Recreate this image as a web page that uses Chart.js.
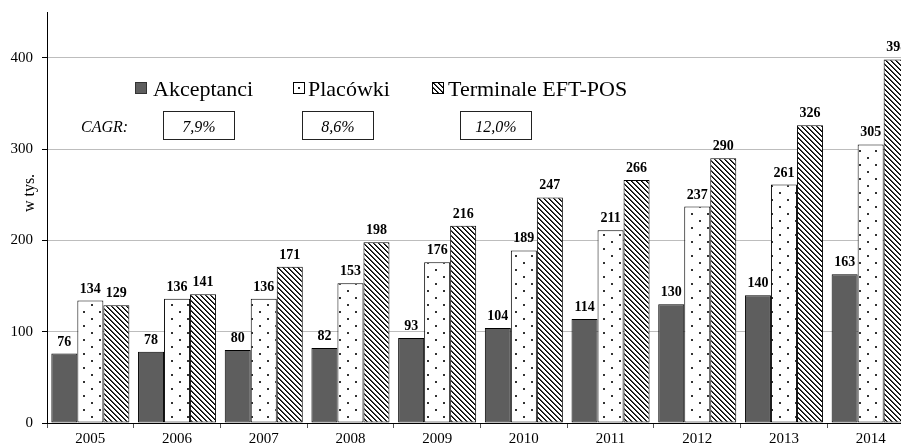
<!DOCTYPE html>
<html>
<head>
<meta charset="utf-8">
<script src="https://cdn.jsdelivr.net/npm/chart.js@4.4.0/dist/chart.umd.min.js"></script>
<style>
  html, body { margin: 0; padding: 0; background: #fff; overflow: hidden; }
  #wrap { width: 901px; height: 446px; overflow: hidden; position: relative; }
  canvas { display: block; }
</style>
</head>
<body>
<div id="wrap"><canvas id="c" width="914" height="446" style="width:914px;height:446px"></canvas></div>
<script>
const years = ['2005','2006','2007','2008','2009','2010','2011','2012','2013','2014'];
const akceptanci = [76, 78, 80, 82, 93, 104, 114, 130, 140, 163];
const placowki   = [134, 136, 136, 153, 176, 189, 211, 237, 261, 305];
const terminale  = [129, 141, 171, 198, 216, 247, 266, 290, 326, 398];
const seriesNames = ['Akceptanci', 'Placówki', 'Terminale EFT-POS'];
const cagrLabel = 'CAGR:';
const cagrValues = ['7,9%', '8,6%', '12,0%'];
const yTickValues = [0, 100, 200, 300, 400];
const yTitle = 'w tys.';

const SERIF = '"Liberation Serif", "Times New Roman", serif';

const canvas = document.getElementById('c');
const ctx = canvas.getContext('2d');

function makeDotPattern() {
  const c = document.createElement('canvas');
  c.width = 16; c.height = 14;
  const g = c.getContext('2d');
  g.fillStyle = '#fff'; g.fillRect(0, 0, 16, 14);
  g.fillStyle = '#333';
  g.fillRect(3, 3, 2, 2);
  g.fillRect(11, 10, 2, 2);
  return ctx.createPattern(c, 'repeat');
}
function makeHatchPattern() {
  const n = 5;
  const c = document.createElement('canvas');
  c.width = n; c.height = n;
  const g = c.getContext('2d');
  g.fillStyle = '#fff'; g.fillRect(0, 0, n, n);
  for (let y = 0; y < n; y++) {
    for (let x = 0; x < n; x++) {
      const d = ((x - y) % n + n) % n;
      if (d === 0) { g.fillStyle = '#000'; g.fillRect(x, y, 1, 1); }
      else if (d === 1) { g.fillStyle = '#444'; g.fillRect(x, y, 1, 1); }
    }
  }
  return ctx.createPattern(c, 'repeat');
}
const dotPat = makeDotPattern();
const hatchPat = makeHatchPattern();
const darkFill = '#5e5e5e';

const overlayPlugin = {
  id: 'overlay',
  afterDatasetsDraw(chart) {
    const c = chart.ctx;
    c.save();
    // data labels
    c.font = 'bold 14px ' + SERIF;
    c.fillStyle = '#000';
    c.textAlign = 'center';
    c.textBaseline = 'alphabetic';
    chart.data.datasets.forEach((ds, i) => {
      const meta = chart.getDatasetMeta(i);
      meta.data.forEach((bar, j) => {
        c.fillText(String(ds.data[j]), bar.x, bar.y - 8);
      });
    });
    // y title
    c.save();
    c.translate(30, 193);
    c.rotate(-Math.PI / 2);
    c.font = '16px ' + SERIF;
    c.textAlign = 'center';
    c.textBaseline = 'middle';
    c.fillText(yTitle, 0, 0);
    c.restore();

    // legend
    const boxes = [135, 293, 432];
    const textX = [153, 308, 448];
    const fills = [darkFill, '#fff', hatchPat];
    c.font = '22px ' + SERIF;
    c.textAlign = 'left';
    c.textBaseline = 'alphabetic';
    for (let i = 0; i < 3; i++) {
      c.fillStyle = fills[i];
      c.fillRect(boxes[i], 82, 11, 11);
      c.strokeStyle = i === 0 ? '#333' : '#000';
      c.lineWidth = 1;
      c.strokeRect(boxes[i] + 0.5, 82.5, 11, 11);
      if (i === 1) { c.fillStyle = '#222'; c.fillRect(boxes[i] + 5, 87, 2, 2); }
      c.fillStyle = '#000';
      c.fillText(seriesNames[i], textX[i], 96);
    }
    // CAGR
    c.font = 'italic 16px ' + SERIF;
    c.fillText(cagrLabel, 81, 132);
    const bx = [163, 302, 460];
    c.textAlign = 'center';
    for (let i = 0; i < 3; i++) {
      c.strokeStyle = '#222';
      c.strokeRect(bx[i] + 0.5, 111.5, 71, 28);
      c.fillStyle = '#000';
      c.fillText(cagrValues[i], bx[i] + 36, 132);
    }
    c.restore();
  }
};

const common = { borderColor: '#000', borderWidth: 1, borderSkipped: false, categoryPercentage: 0.9, barPercentage: 1.0 };

new Chart(canvas, {
  type: 'bar',
  data: {
    labels: years,
    datasets: [
      Object.assign({ label: seriesNames[0], data: akceptanci, backgroundColor: darkFill }, common),
      Object.assign({ label: seriesNames[1], data: placowki, backgroundColor: dotPat }, common),
      Object.assign({ label: seriesNames[2], data: terminale, backgroundColor: hatchPat }, common)
    ]
  },
  options: {
    responsive: false,
    animation: false,
    layout: { padding: { top: 12, right: 0, left: 0, bottom: 0 } },
    plugins: { legend: { display: false }, tooltip: { enabled: false } },
    scales: {
      x: {
        offset: true,
        grid: { offset: true, drawOnChartArea: false, drawTicks: true, tickLength: 5, tickColor: '#555' },
        border: { display: true, color: '#000', width: 1 },
        ticks: { font: { family: SERIF, size: 15 }, color: '#000', padding: 2, maxRotation: 0 },
        afterFit(scale) { scale.height = 23; scale.paddingLeft = 0; scale.paddingRight = 0; }
      },
      y: {
        min: 0, max: 450,
        grid: { color: '#bdbdbd', lineWidth: 1, tickLength: 5, tickColor: '#000', drawTicks: true },
        border: { display: true, color: '#000', width: 1 },
        ticks: { stepSize: 100, font: { family: SERIF, size: 15 }, color: '#000', padding: 9 },
        afterBuildTicks(scale) { scale.ticks = yTickValues.map(v => ({ value: v })); },
        afterFit(scale) { scale.width = 47; scale.paddingTop = 0; scale.paddingBottom = 0; }
      }
    }
  },
  plugins: [overlayPlugin]
});
</script>
</body>
</html>
